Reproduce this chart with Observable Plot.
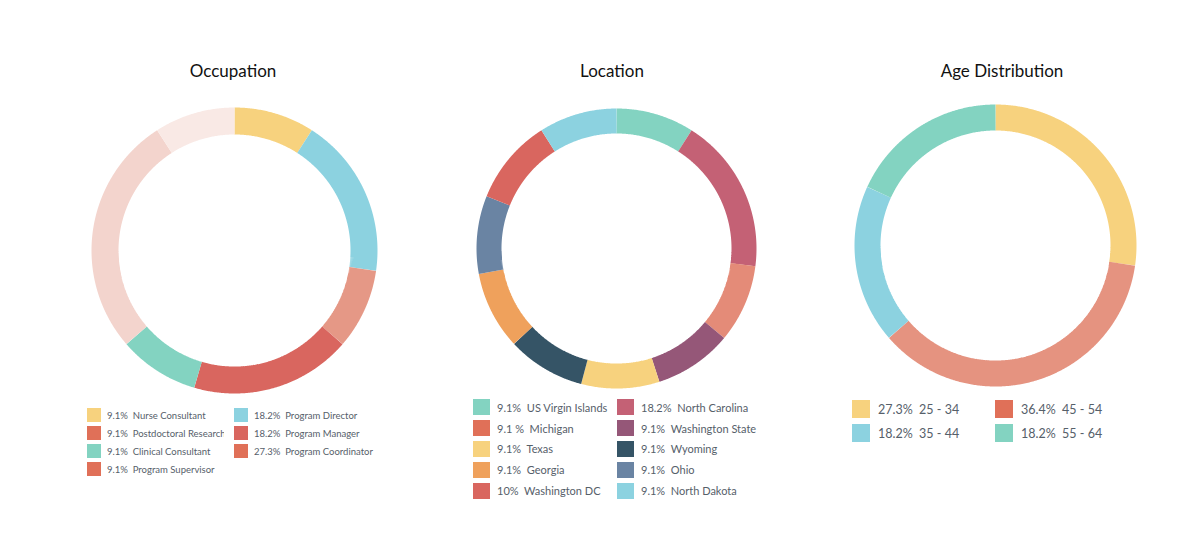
<!DOCTYPE html>
<html>
<head>
<meta charset="utf-8">
<script src="https://cdn.jsdelivr.net/npm/d3@7"></script>
<script src="https://cdn.jsdelivr.net/npm/@observablehq/plot@0.6"></script>
<style>
  body { margin: 0; background: #fff; }
  #root { position: relative; width: 1200px; height: 536px; overflow: hidden; background: #fff; }
  .title { position: absolute; font-family: Lato, "Open Sans", sans-serif; font-size: 17px; color: #111; transform: translate(-50%, -50%); white-space: nowrap; }
  .panel { position: absolute; }
  .legend { position: absolute; display: grid; font-family: Lato, "Open Sans", sans-serif; color: #56606a; }
  .item { display: flex; align-items: center; white-space: nowrap; overflow: hidden; min-width: 0; }
  .sw { flex: none; }
  .lab { display: block; overflow: hidden; white-space: nowrap; min-width: 0; flex: 1 1 auto; }
</style>
</head>
<body>
<div id="root"></div>
<script>
// ---- Data (slice order, clockwise from 12 o'clock) ----
const occNames = ["Nurse Consultant", "Program Director", "Postdoctoral Research Associate", "Program Manager", "Clinical Consultant", "Program Coordinator", "Program Supervisor"];
const occValues = [9.1, 18.2, 9.1, 18.2, 9.1, 27.3, 9.1];
const occPct = ["9.1%", "18.2%", "9.1%", "18.2%", "9.1%", "27.3%", "9.1%"];

const locNames = ["US Virgin Islands", "North Carolina", "Michigan", "Washington State", "Texas", "Wyoming", "Georgia", "Ohio", "Washington DC", "North Dakota"];
const locValues = [9.1, 18.2, 9.1, 9.1, 9.1, 9.1, 9.1, 9.1, 10, 9.1];
const locPct = ["9.1%", "18.2%", "9.1 %", "9.1%", "9.1%", "9.1%", "9.1%", "9.1%", "10%", "9.1%"];

const ageNames = ["25 - 34", "45 - 54", "35 - 44", "55 - 64"];
const ageValues = [27.3, 36.4, 18.2, 18.2];
const agePct = ["27.3%", "36.4%", "18.2%", "18.2%"];

// ---- Styles ----
const occSlice = ["#f7d27e", "#8cd2e0", "#e59886", "#d9665f", "#83d3c1", "#f3d4cd", "#f9e9e5"];
const occSwatch = ["#f7d27e", "#8cd2e0", "#e07058", "#d9665f", "#83d3c1", "#e07058", "#e07058"];
const locSlice = ["#83d3c1", "#c46175", "#e48b78", "#955778", "#f7d27e", "#355466", "#efa15c", "#6a84a3", "#d9665f", "#8cd2e0"];
const locSwatch = ["#83d3c1", "#c46175", "#e07058", "#955778", "#f7d27e", "#355466", "#efa15c", "#6a84a3", "#d9665f", "#8cd2e0"];
const ageSlice = ["#f7d27e", "#e59380", "#8cd2e0", "#83d3c1"];
const ageSwatch = ["#f7d27e", "#e07058", "#8cd2e0", "#83d3c1"];

const root = document.getElementById("root");

function donut(names, values, colors, outerR, thick) {
  const total = d3.sum(values);
  const rMid = outerR - thick / 2;
  const pts = [];
  let acc = 0;
  names.forEach((n, i) => {
    const a0 = acc / total * 2 * Math.PI;
    acc += values[i];
    const a1 = acc / total * 2 * Math.PI;
    const steps = Math.max(2, Math.ceil((a1 - a0) / (Math.PI / 360)));
    for (let k = 0; k <= steps; k++) pts.push({name: n, a: a0 + (a1 - a0) * k / steps});
  });
  return Plot.plot({
    width: 300, height: 300, margin: 0,
    style: {background: "transparent", overflow: "visible"},
    x: {domain: [-150, 150], axis: null},
    y: {domain: [-150, 150], axis: null},
    color: {domain: names, range: colors},
    marks: [
      Plot.line(pts, {
        x: d => rMid * Math.sin(d.a),
        y: d => rMid * Math.cos(d.a),
        z: "name", stroke: "name",
        strokeWidth: thick, strokeLinecap: "butt", strokeLinejoin: "miter"
      })
    ]
  });
}

function panel(title, tx, ty, names, values, sliceColors, cx, cy, outerR, thick) {
  const t = document.createElement("div");
  t.className = "title"; t.textContent = title;
  t.style.left = tx + "px"; t.style.top = ty + "px";
  root.appendChild(t);
  const p = document.createElement("div");
  p.className = "panel";
  p.style.left = (cx - 150) + "px"; p.style.top = (cy - 150) + "px";
  p.appendChild(donut(names, values, sliceColors, outerR, thick));
  root.appendChild(p);
}

function legend(names, pct, swatches, o) {
  const L = document.createElement("div");
  L.className = "legend";
  L.style.left = o.left + "px"; L.style.top = o.top + "px";
  L.style.gridTemplateColumns = o.col1 + "px " + o.col2 + "px";
  L.style.gridAutoRows = o.row + "px";
  L.style.fontSize = o.font + "px";
  names.forEach((n, i) => {
    const it = document.createElement("div");
    it.className = "item";
    it.style.paddingRight = o.pad + "px";
    const s = document.createElement("span");
    s.className = "sw";
    s.style.width = o.sw + "px"; s.style.height = o.sh + "px";
    s.style.background = swatches[i];
    s.style.marginRight = o.gap + "px";
    const tx = document.createElement("span");
    tx.className = "lab";
    tx.textContent = pct[i] + "\u00a0\u00a0" + n;
    it.appendChild(s); it.appendChild(tx);
    L.appendChild(it);
  });
  root.appendChild(L);
}

panel("Occupation", 233, 70, occNames, occValues, occSlice, 234, 250, 143, 27);
panel("Location", 612, 70, locNames, locValues, locSlice, 616, 248, 140, 25);
panel("Age Distribution", 1002, 70, ageNames, ageValues, ageSlice, 995, 245, 141, 26);

legend(occNames, occPct, occSwatch, {left: 87, top: 406, col1: 147, col2: 150, row: 18, font: 9.5, sw: 14, sh: 14, gap: 6, pad: 10});
legend(locNames, locPct, locSwatch, {left: 473, top: 397, col1: 144, col2: 150, row: 20.8, font: 11, sw: 17, sh: 16, gap: 7, pad: 0});
legend(ageNames, agePct, ageSwatch, {left: 852, top: 397, col1: 143, col2: 150, row: 24, font: 12.5, sw: 18, sh: 18, gap: 8, pad: 0});
</script>
</body>
</html>
